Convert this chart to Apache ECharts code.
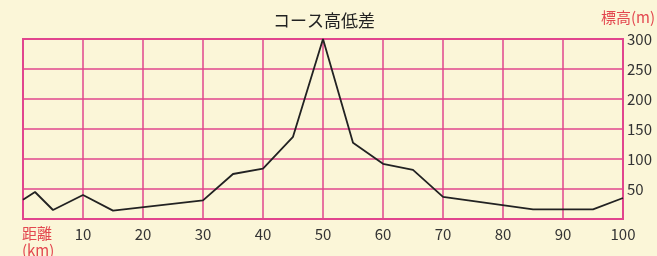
<!DOCTYPE html>
<html>
<head>
<meta charset="utf-8">
<script src="https://cdn.jsdelivr.net/npm/echarts@6/dist/echarts.min.js"></script>
<style>
  html, body { margin: 0; padding: 0; background: #fbf6d8; }
  #chart { width: 657px; height: 256px; }
</style>
</head>
<body>
<div id="chart"></div>
<script>
// course profile: distance (km) / elevation (m)
const distanceKm = [0, 2, 5, 10, 15, 30, 35, 40, 45, 50, 55, 60, 65, 70, 85, 95, 100];
const elevationM = [32, 45, 15, 40, 14, 31, 75, 84, 137, 300, 127, 92, 82, 37, 16, 16, 35];

const pink = "#e1468e";
const font = "'Noto Sans CJK JP', 'Noto Sans', sans-serif";

const chart = echarts.init(document.getElementById("chart"), null, {
  renderer: "canvas",
});
const option = {
  backgroundColor: "#fbf6d8",
  animation: false,
  title: {
    text: "コース高低差",
    left: 268,
    top: 7,
    textStyle: { fontFamily: font, fontSize: 17, fontWeight: "normal", color: "#222" },
  },
  graphic: [
    {
      type: "text",
      right: 2,
      top: 10,
      style: { text: "標高(m)", fontFamily: font, fontSize: 15, fill: "#e3474f" },
    },
    {
      type: "text",
      left: 22,
      top: 225,
      style: { text: "距離\n(km)", fontFamily: font, fontSize: 15, lineHeight: 17, fill: "#e3474f" },
    },
  ],
  grid: {
    left: 23,
    right: 34,
    top: 39,
    bottom: 37,
    show: true,
    borderColor: pink,
    borderWidth: 2,
  },
  xAxis: {
    type: "value",
    min: 0,
    max: 100,
    interval: 10,
    axisLine: { show: false },
    axisTick: { show: false },
    axisLabel: {
      showMinLabel: false,
      margin: 8,
      fontFamily: font,
      fontSize: 15,
      color: "#333",
    },
    splitLine: { lineStyle: { color: pink, width: 1.5 } },
  },
  yAxis: {
    type: "value",
    position: "right",
    min: 0,
    max: 300,
    interval: 50,
    axisLine: { show: false },
    axisTick: { show: false },
    axisLabel: {
      showMinLabel: false,
      margin: 4,
      fontFamily: font,
      fontSize: 15,
      color: "#333",
    },
    splitLine: { lineStyle: { color: pink, width: 1.5 } },
  },
  series: [
    {
      type: "line",
      data: distanceKm.map((d, i) => [d, elevationM[i]]),
      showSymbol: false,
      lineStyle: { color: "#222", width: 1.8 },
    },
  ],
};
chart.setOption(option);
</script>
</body>
</html>
